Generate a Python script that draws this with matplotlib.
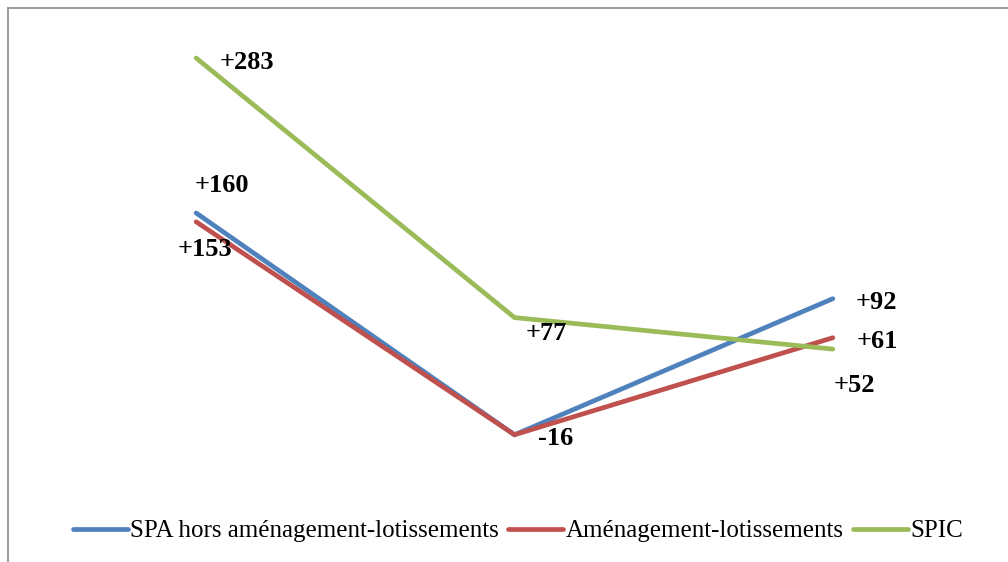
import matplotlib
matplotlib.use("Agg")
import matplotlib.pyplot as plt
from matplotlib.lines import Line2D

# data
categories = ["A", "B", "C"]
spa = [160, -16, 92]
amenagement = [153, -16, 61]
spic = [283, 77, 52]
series_names = ["SPA hors aménagement-lotissements", "Aménagement-lotissements", "SPIC"]
colors = ["#4F81BD", "#C0504D", "#9BBB59"]

# label offsets in pixels (dx, dy) per series, per category; None = hidden
offsets = [
    [(26, 27), (41, -4), (44, -4)],     # SPA
    [(9, -28), None, (44, -4)],         # Aménagement (its -16 sits under SPA's)
    [(51, -4), (32, -16), (22, -36)],   # SPIC
]

plt.rcParams["font.family"] = ["Liberation Serif", "DejaVu Serif"]

W, H = 1008, 562
fig = plt.figure(figsize=(W / 100, H / 100), dpi=100)
ax = fig.add_axes([37 / W, 1 - 477.6 / H, (992 - 37) / W, (477.6 - 36.6) / H])

x = range(len(categories))
all_series = [spa, amenagement, spic]
for vals, name, c in zip(all_series, series_names, colors):
    ax.plot(x, vals, color=c, lw=3.4, label=name, solid_capstyle="round",
            solid_joinstyle="miter")

# data labels
for i, vals in enumerate(all_series):
    for j, v in enumerate(vals):
        if offsets[i][j] is None:
            continue
        dx, dy = offsets[i][j]
        txt = ("+%d" % v) if v > 0 else ("%d" % v)
        ax.annotate(txt, (j, v), xytext=(dx, dy), textcoords="offset pixels",
                    ha="center", va="center", fontsize=19, fontweight="bold")

ax.set_xlim(-0.5, 2.5)
ax.set_ylim(-50, 300)
ax.axis("off")

fig.legend(loc="center", bbox_to_anchor=(518 / W, 1 - 531 / H), ncol=3,
           frameon=False, fontsize=18, handlelength=2.2, handletextpad=0.12,
           columnspacing=0.35)

# outer frame (left + top edges visible)
fig.add_artist(Line2D([8 / W, 8 / W], [0, 1 - 8 / H], color="#8c8c8c", lw=1.2))
fig.add_artist(Line2D([8 / W, 1], [1 - 8 / H, 1 - 8 / H], color="#8c8c8c", lw=1.2))

fig.savefig("out.png", dpi=100)
